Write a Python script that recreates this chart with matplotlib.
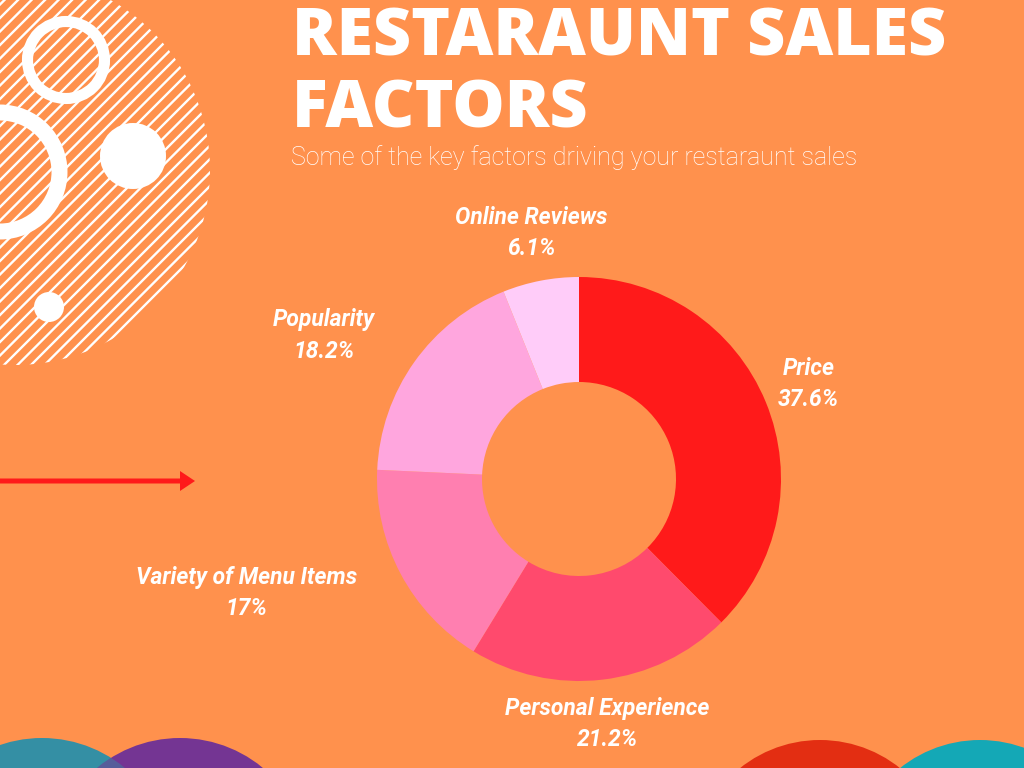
import numpy as np
import matplotlib.pyplot as plt
from matplotlib.patches import Circle, FancyArrow

categories = ['Price', 'Personal Experience', 'Variety of Menu Items', 'Popularity', 'Online Reviews']
shares = [37.6, 21.2, 17.0, 18.2, 6.1]
share_labels = ['37.6%', '21.2%', '17%', '18.2%', '6.1%']
colors = ['#FF1A1A', '#FF4A6D', '#FF7FB0', '#FFA6DE', '#FFCCF9']

bg = '#FF914D'
H = 768  # image height in px, y flipped below


def Y(y):
    return H - y


fig = plt.figure(figsize=(10.24, 7.68), dpi=100, facecolor=bg)
ax = fig.add_axes([0, 0, 1, 1])
ax.set_facecolor(bg)

# hatched disc top left
disc = Circle((15, Y(170)), 195, facecolor='none', edgecolor='none')
ax.add_patch(disc)
xs = np.array([-300, 500])
for c in np.arange(-600, 900, 13.5):
    ln, = ax.plot(xs, xs + c, color='white', lw=1.7, solid_capstyle='butt')
    ln.set_clip_path(disc)

ax.add_patch(Circle((66, Y(60)), 38.5, facecolor='none', edgecolor='white', lw=8))
ax.add_patch(Circle((0, Y(172)), 59.5, facecolor='none', edgecolor='white', lw=11.5))
ax.add_patch(Circle((133, Y(156)), 33, facecolor='white', edgecolor='none'))
ax.add_patch(Circle((49, Y(307)), 15, facecolor='white', edgecolor='none'))

# arrow
ax.add_patch(FancyArrow(0, Y(481), 180, 0, width=5, head_width=20, head_length=15,
                        length_includes_head=False, color='#FF1A1A', lw=0))

# bottom circles
teal = Circle((42, Y(868)), 130, facecolor='#348FA4', edgecolor='none')
purple = Circle((180, Y(868)), 130, facecolor='#743593', edgecolor='none')
ax.add_patch(teal)
ax.add_patch(purple)
mix = Circle((42, Y(868)), 130, facecolor='#348FA4', edgecolor='none', alpha=0.45)
ax.add_patch(mix)
mix.set_clip_path(purple)
ax.add_patch(Circle((820, Y(868)), 128, facecolor='#E32E12', edgecolor='none'))
ax.add_patch(Circle((980, Y(868)), 128, facecolor='#14A8B6', edgecolor='none'))

# donut
cx, cy, R = 579, Y(479), 202
wedges, _ = ax.pie(shares, colors=colors, startangle=90, counterclock=False,
                   center=(cx, cy), radius=R,
                   wedgeprops=dict(width=105, edgecolor='none'))

label_dist = [1.23, 1.22, 1.74, 1.45, 1.24]
label_ang_shift = [0, 0, -9, 6, 0]
for w, name, lab, d, sh in zip(wedges, categories, share_labels, label_dist, label_ang_shift):
    ang = np.deg2rad((w.theta1 + w.theta2) / 2 + sh)
    tx = cx + d * R * np.cos(ang)
    ty = cy + d * R * np.sin(ang)
    ax.text(tx, ty, name + '\n' + lab, ha='center', va='center', color='white',
            fontsize=16.5, fontweight='bold', fontstyle='italic', family='Roboto',
            linespacing=1.45)

# titles
ax.text(292, Y(5), 'RESTARAUNT SALES\nFACTORS', ha='left', va='top', color='white',
        fontsize=47.5, fontweight='heavy', family='Open Sans', linespacing=1.13)
ax.text(291, Y(145), 'Some of the key factors driving your restaraunt sales',
        ha='left', va='top', color='white', fontsize=18, fontweight='light',
        family='Roboto')

ax.set_xlim(0, 1024)
ax.set_ylim(0, H)
ax.set_aspect('auto')
ax.axis('off')

fig.savefig('out.png', dpi=100, facecolor=bg)
